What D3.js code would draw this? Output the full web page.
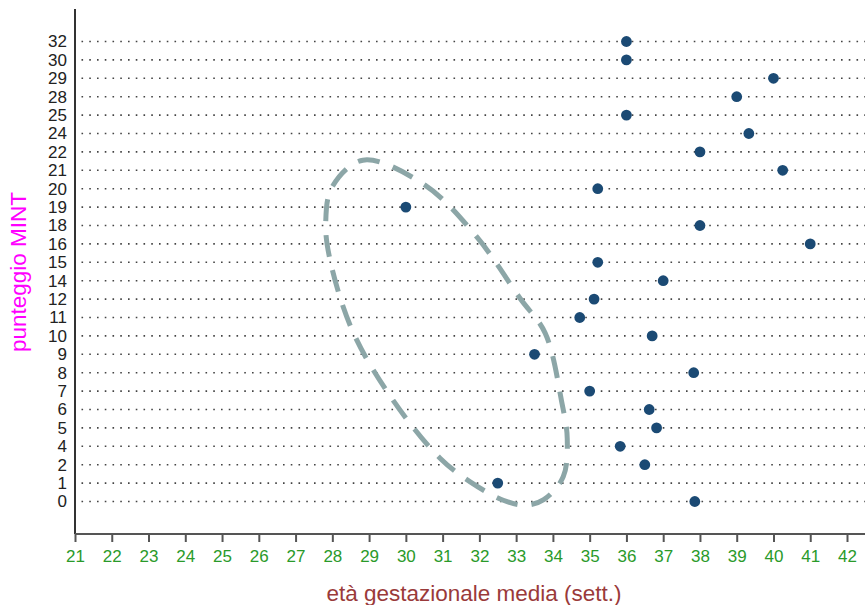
<!DOCTYPE html>
<html>
<head>
<meta charset="utf-8">
<script src="https://cdn.jsdelivr.net/npm/d3@7"></script>
<style>
  html, body { margin: 0; padding: 0; background: #fff; }
  svg { display: block; font-family: "Liberation Sans", Arial, sans-serif; }
</style>
</head>
<body>
<svg id="chart" width="865" height="605"></svg>
<script>
// MINT score levels shown on the vertical (ordinal) axis, bottom to top
const scoreLevels = [0, 1, 2, 4, 5, 6, 7, 8, 9, 10, 11, 12, 14, 15, 16, 18, 19, 20, 21, 22, 24, 25, 28, 29, 30, 32];

// one point per score: mean gestational age (weeks)
const pointScores = [32, 30, 29, 28, 25, 24, 22, 21, 20, 19, 18, 16, 15, 14, 12, 11, 10, 9, 8, 7, 6, 5, 4, 2, 1, 0];
const pointWeeks  = [36, 36, 40, 39, 36, 39.33, 38, 40.25, 35.22, 30, 38, 41, 35.22, 37, 35.12, 34.73, 36.7, 33.5, 37.83, 35, 36.62, 36.82, 35.83, 36.5, 32.5, 37.86];

// x axis ticks (weeks)
const weekTicks = d3.range(21, 43);

// outline of the highlighted group: weeks and score-row position (row index)
const outlineWeeks = [28.83, 30.52, 31.93, 33.11, 33.79, 34.24, 34.39, 34.28, 33.75, 33.25, 32.65, 31.75, 30.93, 29.65, 28.56, 27.94, 27.82, 27.99];
const outlineRows  = [18.55, 17.19, 14.38, 11.03, 9.15, 5.41, 3.42, 1.34, 0.1, -0.2, 0.07, 1.07, 2.35, 5.51, 9.22, 13.11, 15.13, 17.08];

const svg = d3.select("#chart");

const plotLeft = 75, plotRight = 865, plotTop = 9, plotBottom = 534;

const x = d3.scaleLinear().domain([21, 42]).range([plotLeft, 847]);
const y = d3.scalePoint().domain(scoreLevels).range([plotBottom, plotTop]).padding(1.766);
const yRow = d3.scaleLinear().domain([0, scoreLevels.length - 1])
  .range([y(scoreLevels[0]), y(scoreLevels[scoreLevels.length - 1])]);

// dotted row guides
svg.append("g").selectAll("line")
  .data(scoreLevels)
  .join("line")
  .attr("x1", plotLeft + 6.5)
  .attr("x2", plotRight)
  .attr("y1", d => y(d))
  .attr("y2", d => y(d))
  .attr("stroke", "#444")
  .attr("stroke-width", 1.6)
  .attr("stroke-dasharray", "1.6 6.15");

// y axis: labels only, plus the axis line
const yAxis = svg.append("g")
  .attr("transform", `translate(${plotLeft},0)`)
  .call(d3.axisLeft(y).tickSize(0).tickPadding(8));
yAxis.select(".domain").remove();
yAxis.selectAll("text")
  .attr("font-size", 17)
  .attr("fill", "#222")
  .attr("font-family", "Liberation Sans, Arial, sans-serif");

svg.append("line")
  .attr("x1", plotLeft).attr("x2", plotLeft)
  .attr("y1", plotTop).attr("y2", plotBottom)
  .attr("stroke", "#333").attr("stroke-width", 2);

// x axis
const xAxis = svg.append("g")
  .attr("transform", `translate(0,${plotBottom})`)
  .call(d3.axisBottom(x).tickValues(weekTicks).tickSize(8).tickPadding(8).tickSizeOuter(0));
xAxis.select(".domain").remove();
xAxis.selectAll(".tick line").attr("stroke", "#555").attr("stroke-width", 2);
xAxis.selectAll("text")
  .attr("font-size", 17)
  .attr("fill", "#2a9a2a")
  .attr("font-family", "Liberation Sans, Arial, sans-serif");

svg.append("line")
  .attr("x1", plotLeft).attr("x2", plotRight)
  .attr("y1", plotBottom).attr("y2", plotBottom)
  .attr("stroke", "#555").attr("stroke-width", 2);

// highlighted group outline
const outline = d3.line()
  .x(d => x(d[0]))
  .y(d => yRow(d[1]))
  .curve(d3.curveCatmullRomClosed.alpha(0.5));
svg.append("path")
  .attr("d", outline(d3.zip(outlineWeeks, outlineRows)))
  .attr("fill", "none")
  .attr("stroke", "#8ca6a7")
  .attr("stroke-width", 5)
  .attr("stroke-dasharray", "22 14");

// points
svg.append("g").selectAll("circle")
  .data(d3.zip(pointWeeks, pointScores))
  .join("circle")
  .attr("cx", d => x(d[0]))
  .attr("cy", d => y(d[1]))
  .attr("r", 5.4)
  .attr("fill", "#1b4a74");

// axis titles
svg.append("text")
  .attr("x", 474)
  .attr("y", 601)
  .attr("text-anchor", "middle")
  .attr("font-size", 22.5)
  .attr("fill", "#9a3a3a")
  .text("età gestazionale media (sett.)");

svg.append("text")
  .attr("transform", "translate(26,272) rotate(-90)")
  .attr("text-anchor", "middle")
  .attr("font-size", 22.5)
  .attr("fill", "#ff00ff")
  .text("punteggio MINT");
</script>
</body>
</html>
